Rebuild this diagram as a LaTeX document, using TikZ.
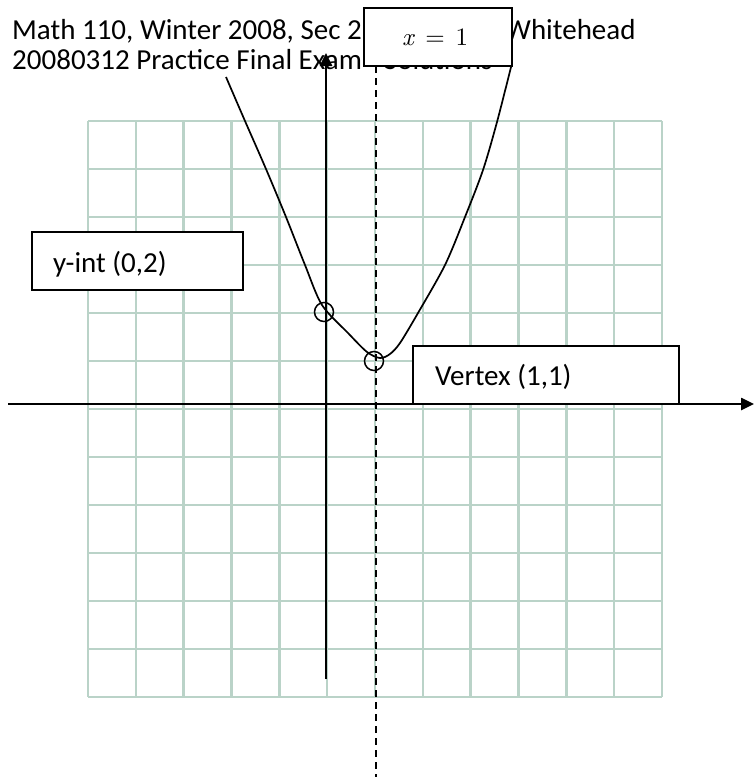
\documentclass[tikz,border=0pt]{standalone}
\usepackage{fontspec}
\newfontfamily\carlito{Carlito}
\newfontfamily\lmten[ItalicFont=lmroman10-italic.otf]{lmroman10-regular.otf}
\usetikzlibrary{arrows.meta}
\definecolor{gridc}{RGB}{186,211,200}
\begin{document}
\begin{tikzpicture}[x=1bp,y=-1bp,
  gridline/.style={draw=gridc, line width=2.4bp},
  axisline/.style={draw=black, line width=2.5bp, -{Triangle[length=13bp,width=12bp]}},
  curveline/.style={draw=black, line width=1.7bp},
  markc/.style={circle, draw=black, line width=1.5bp, minimum size=19bp, inner sep=0pt},
  labelbox/.style={draw=black, fill=white, line width=2bp, inner sep=0pt},
  dashline/.style={draw=black, line width=2bp, dash pattern=on 7bp off 5bp},
  txt/.style={inner sep=0pt, anchor=base west, font=\carlito\fontsize{29bp}{31bp}\selectfont},
  mtxt/.style={inner sep=0pt, anchor=base west, font=\lmten\fontsize{25bp}{27bp}\selectfont}
]
\useasboundingbox (0,0) rectangle (754,777);
\fill[white] (0,0) rectangle (754,777);

% grid
\foreach \i in {0,...,12} {
  \draw[gridline] ({88+\i*47.83},121) -- ({88+\i*47.83},697);
}
\foreach \j in {0,...,12} {
  \draw[gridline] (88,{121+\j*48}) -- (662,{121+\j*48});
}

% title
\node[txt] (t1) at (12,39.5) {Math 110, Winter 2008, Sec 2};
\node[txt] (t1b) at (505,39.5) {Whitehead};
\node[txt] (t2) at (12,70) {20080312 Practice Final Exam - Solutions};

% parabola
\draw[curveline] plot[smooth, tension=0.5] coordinates {
  (226,77) (245,121) (266,169) (286,217) (305,265) (322,305) (348,333)
  (367,352) (380,358) (390,354) (400,343) (418,313) (445,265)
  (465,217) (483,170) (497,122) (511,67)};

% axes
\coordinate (xs) at (8,404);
\coordinate (xe) at (754,404);
\coordinate (ys) at (326,679);
\coordinate (ye) at (326,53);
\draw[axisline] (xs) -- (xe);
\draw[axisline] (ys) -- (ye);

% points
\node[markc] (yint) at (324,312) {};
\node[markc] (vert) at (374,361) {};

% boxes
\node[labelbox, minimum width=148bp, minimum height=57bp] (xbox) at (438,37) {};
\node[labelbox, minimum width=210bp, minimum height=58bp] (ybox) at (137.5,261) {};
\node[labelbox, minimum width=266bp, minimum height=58bp] (vbox) at (546,375) {};

% dashed line x = 1
\coordinate (dtop) at (376,66);
\coordinate (dbot) at (376,777);
\draw[dashline] (dtop) -- (dbot);

% box texts
\node[mtxt] (xlab) at (402,46) {\textit{x}\hspace{10.3bp}=\hspace{10.7bp}1};
\node[txt] (ylab) at (53,272) {y-int (0,2)};
\node[txt] (vlab) at (435,385) {Vertex (1,1)};
\end{tikzpicture}
\end{document}
